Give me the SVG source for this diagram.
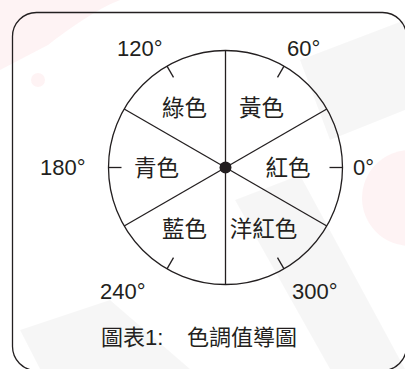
<svg xmlns="http://www.w3.org/2000/svg" width="405" height="369" viewBox="0 0 405 369">
  <style>
    .ln { stroke: #231f20; stroke-width: 1.3; fill: none; stroke-linecap: butt; }
    .t { font-family: "Liberation Sans", "Noto Sans CJK TC", sans-serif; font-size: 22px; fill: #231f20; }
    .c { font-family: "Liberation Sans", "Noto Sans CJK TC", sans-serif; font-size: 22.5px; fill: #231f20; text-anchor: middle; }
    .wm-p { fill: #e8303f; opacity: 0.06; }
    .wm-g { fill: #000000; opacity: 0.035; }
  </style>
  <rect width="405" height="369" fill="#ffffff"/>
  <g id="watermark">
    <path class="wm-p" d="M0,0 L120,0 C95,10 70,28 48,45 L0,70 Z"/>
    <circle class="wm-p" cx="38" cy="80" r="7"/>
    <circle class="wm-p" cx="410" cy="198" r="48"/>
    <polygon class="wm-g" points="300,60 405,20 405,110 330,140"/>
    <polygon class="wm-g" points="235,200 300,175 405,369 330,369"/>
    <polygon class="wm-g" points="20,330 110,300 190,369 40,369"/>
  </g>
  <g id="frame">
    <rect class="ln" x="12.5" y="12.5" width="394" height="358" rx="24" ry="24"/>
  </g>
  <g id="wheel">
    <circle class="ln" cx="225.5" cy="167.5" r="117"/>
    <line class="ln" x1="225.5" y1="50.5" x2="225.5" y2="284.5"/>
    <line class="ln" x1="326.82" y1="109" x2="124.18" y2="226"/>
    <line class="ln" x1="124.18" y1="109" x2="326.82" y2="226"/>
    <line class="ln" x1="342.5" y1="167.5" x2="329.5" y2="167.5"/>
    <line class="ln" x1="108.5" y1="167.5" x2="121.5" y2="167.5"/>
    <line class="ln" x1="284" y1="66.18" x2="277.5" y2="77.43"/>
    <line class="ln" x1="167" y1="66.18" x2="173.5" y2="77.43"/>
    <line class="ln" x1="167" y1="268.82" x2="173.5" y2="257.57"/>
    <line class="ln" x1="284" y1="268.82" x2="277.5" y2="257.57"/>
    <circle cx="225.5" cy="167.5" r="6" fill="#231f20"/>
  </g>
  <g id="sector-labels">
    <text class="c" x="184.5" y="115.5">綠色</text>
    <text class="c" x="261.5" y="115.5">黃色</text>
    <text class="c" x="156.5" y="175.5">青色</text>
    <text class="c" x="288" y="175.5">紅色</text>
    <text class="c" x="184.5" y="236.5">藍色</text>
    <text class="c" x="263.5" y="236.5">洋紅色</text>
  </g>
  <g id="degree-labels">
    <text class="t" x="117" y="55.5">120°</text>
    <text class="t" x="287" y="55.5">60°</text>
    <text class="t" x="40" y="175">180°</text>
    <text class="t" x="353" y="175">0°</text>
    <text class="t" x="100" y="299">240°</text>
    <text class="t" x="292" y="299">300°</text>
  </g>
  <g id="caption">
    <text class="t" y="344.5"><tspan x="101">圖表1: </tspan><tspan x="187">色調值導圖</tspan></text>
  </g>
</svg>
